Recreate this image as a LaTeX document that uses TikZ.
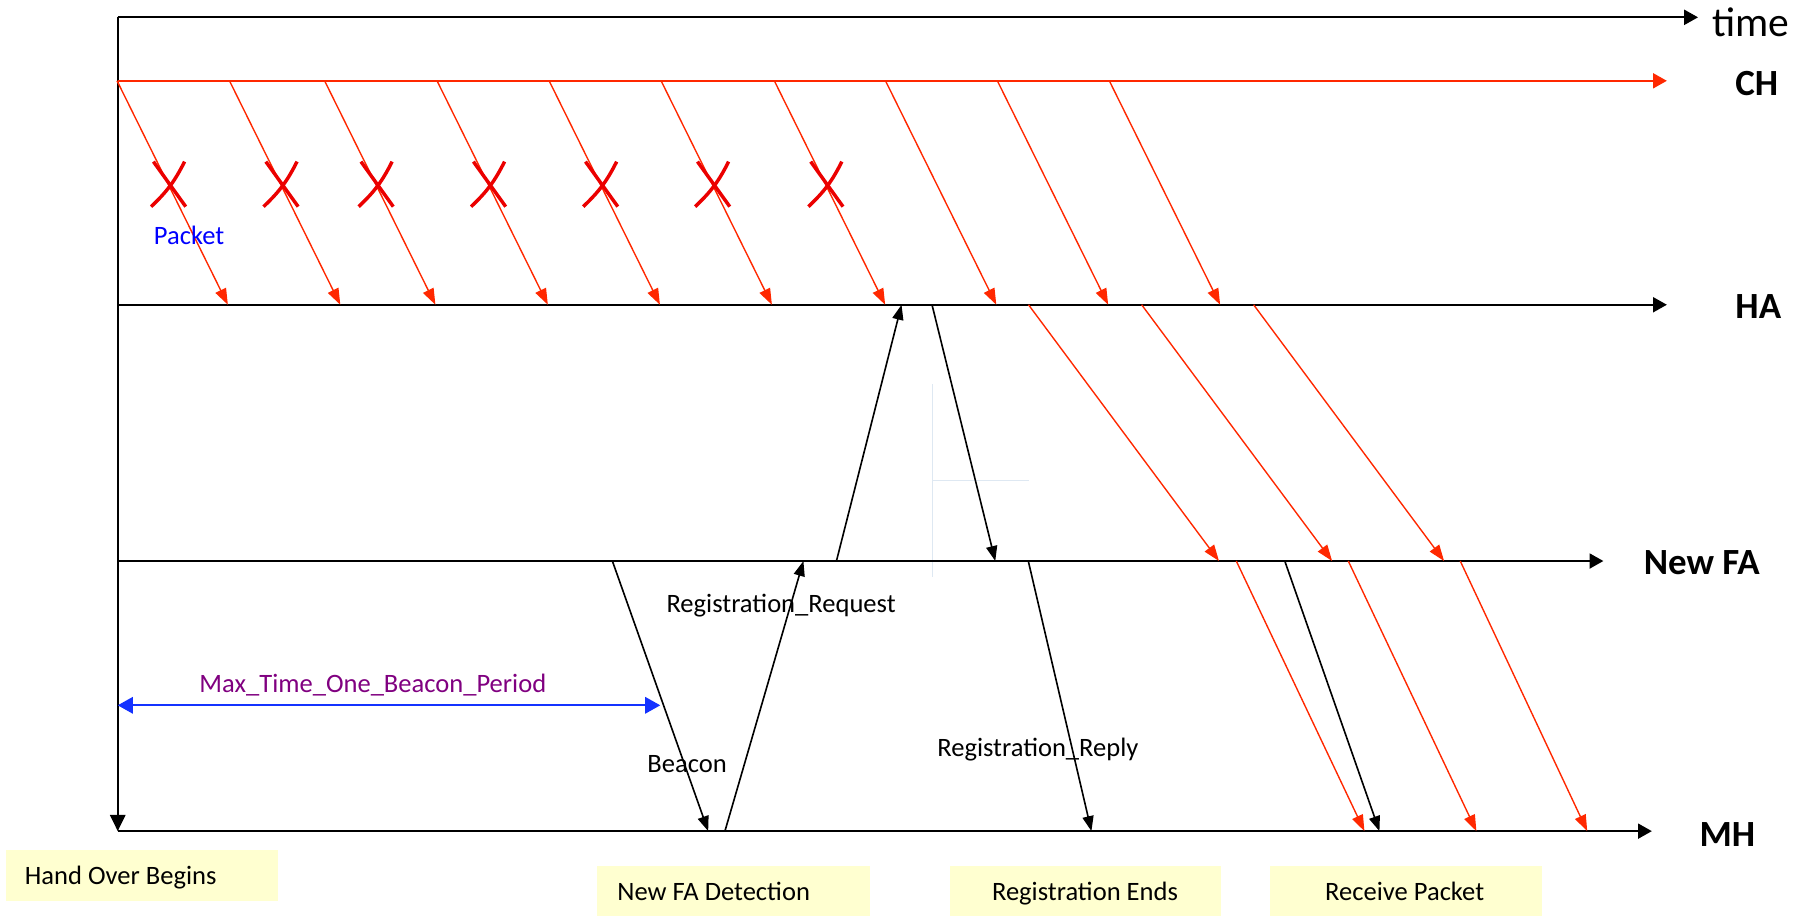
\documentclass[tikz,border=0pt]{standalone}
\usepackage{fontspec}
\setmainfont{Carlito}
\usetikzlibrary{arrows.meta}
\definecolor{pktred}{RGB}{255,40,0}
\definecolor{xred}{RGB}{235,0,0}
\definecolor{dimblue}{RGB}{20,50,255}
\definecolor{pblue}{RGB}{0,0,255}
\definecolor{mpurple}{RGB}{128,0,128}
\definecolor{noteyellow}{RGB}{255,255,208}
\definecolor{faintblue}{RGB}{222,232,242}
\begin{document}
\begin{tikzpicture}[x=0.5pt,y=-0.5pt,
  axis/.style={line width=0.85pt,-{Triangle[length=6pt,width=6.5pt]}},
  pkt/.style={draw=pktred,line width=0.6pt,-{Triangle[length=7pt,width=5pt]}},
  sig/.style={draw=black,line width=0.7pt,-{Triangle[length=6.5pt,width=4.8pt]}},
  xmark/.style={draw=xred,line width=1.5pt},
  lbl/.style={font=\fontsize{11.5}{13}\selectfont,inner sep=0pt,anchor=base west},
  lane/.style={font=\fontsize{16}{18}\selectfont\bfseries,inner sep=0pt,anchor=base west},
  notebox/.style={fill=noteyellow,draw=none,inner sep=0pt,anchor=north west}
]
\useasboundingbox (0,0) rectangle (1568,794);

% ---- timeline coordinates
\coordinate (o) at (102,15);
\coordinate (tE) at (1471,15);
\coordinate (ch0) at (102,70);
\coordinate (chE) at (1444,70);
\coordinate (ha0) at (102,264);
\coordinate (haE) at (1444,264);
\coordinate (fa0) at (102,486);
\coordinate (faE) at (1389,486);
\coordinate (mh0) at (102,720);
\coordinate (mhE) at (1431,720);

% ---- faint guide lines
\coordinate (f1) at (808,333);
\coordinate (f2) at (808,500);
\coordinate (f3) at (808,416);
\coordinate (f4) at (891,416);
\draw[faintblue,line width=0.6pt] (f1) -- (f2) (f3) -- (f4);

% ---- note boxes
\node[notebox,minimum width=117.8pt,minimum height=22.25pt] (b1) at (4.4,735.8) {};
\node[notebox,minimum width=118.2pt,minimum height=21.95pt] (b2) at (517,749.4) {};
\node[notebox,minimum width=117.4pt,minimum height=21.95pt] (b3) at (822.6,749.4) {};
\node[notebox,minimum width=117.8pt,minimum height=21.95pt] (b4) at (1099.4,749.4) {};
\node[lbl] (t1) at (21.2,765.8) {Hand Over Begins};
\node[lbl] (t2) at (534.5,779.7) {New FA Detection};
\node[lbl] (t3) at (859,779.7) {Registration Ends};
\node[lbl] (t4) at (1147.6,779.7) {Receive Packet};

% ---- axes
\draw[axis] (o) -- (tE);
\draw[line width=0.85pt,-{Triangle[length=7pt,width=6.6pt]}] (o) -- (mh0);
\draw[axis,draw=pktred] (ch0) -- (chE);
\draw[axis] (ha0) -- (haE);
\draw[axis] (fa0) -- (faE);
\draw[axis] (mh0) -- (mhE);

% ---- packets CH -> HA
\foreach \s [count=\i] in {101.4,198.8,281.2,378.6,475.7,572.7,670.8,767.1,864,961} {
  \coordinate (pa\i) at (\s,70);
  \coordinate (pb\i) at (\s+96,264);
  \draw[pkt] (pa\i) -- (pb\i);
}
% ---- lost packets
\foreach \s [count=\i] in {101.4,198.8,281.2,378.6,475.7,572.7,670.8} {
  \coordinate (xc\i) at (\s+44.5,160);
  \draw[xmark] ([shift={(-13,-20)}]xc\i) -- ([shift={(15,19)}]xc\i);
  \draw[xmark] ([shift={(14,-20)}]xc\i) to[bend left=10] ([shift={(-15,19)}]xc\i);
}
% ---- packets HA -> New FA
\foreach \a/\b [count=\i] in {891/1056,989/1154,1086/1251} {
  \coordinate (ra\i) at (\a,264);
  \coordinate (rb\i) at (\b,486);
  \draw[pkt] (ra\i) -- (rb\i);
}
% ---- packets New FA -> MH
\foreach \a/\b [count=\i] in {1071/1182,1168/1279,1265/1375} {
  \coordinate (qa\i) at (\a,486);
  \coordinate (qb\i) at (\b,720);
  \draw[pkt] (qa\i) -- (qb\i);
}

% ---- signalling
\coordinate (bc0) at (530.5,486);
\coordinate (bc1) at (613.5,720);
\coordinate (rq0) at (628,720);
\coordinate (rq1) at (696,486);
\coordinate (rq2) at (724.6,486);
\coordinate (rq3) at (781,264);
\coordinate (rp0) at (807.4,264);
\coordinate (rp1) at (862.2,486);
\coordinate (rp2) at (890.8,486);
\coordinate (rp3) at (945.5,720);
\coordinate (fw0) at (1113,486);
\coordinate (fw1) at (1195,720);
\draw[sig] (bc0) -- (bc1);
\draw[sig] (rq0) -- (rq1);
\draw[sig] (rq2) -- (rq3);
\draw[sig] (rp0) -- (rp1);
\draw[sig] (rp2) -- (rp3);
\draw[sig] (fw0) -- (fw1);

% ---- beacon period
\coordinate (m1) at (102,611);
\coordinate (m2) at (572,611);
\draw[dimblue,line width=0.75pt,{Triangle[length=6.6pt,width=7.2pt]}-{Triangle[length=6.6pt,width=7.2pt]}] (m1) -- (m2);

% ---- labels
\node[lbl,text=pblue] (lpk) at (133,212) {Packet};
\node[lbl,text=mpurple] (lmax) at (172.4,600) {Max\_Time\_One\_Beacon\_Period};
\node[lbl] (lbc) at (560.5,669) {Beacon};
\node[lbl] (lrq) at (577,530.5) {Registration\_Request};
\node[lbl] (lrp) at (811.6,655.5) {Registration\_Reply};

\node[font=\fontsize{18}{20}\selectfont,inner sep=0pt,anchor=base west] (ltime) at (1483,32) {time};
\node[lane] (lch) at (1503,83) {CH};
\node[lane] (lha) at (1503,276) {HA};
\node[lane] (lfa) at (1423.6,498) {New FA};
\node[lane] (lmh) at (1472,733) {MH};
\end{tikzpicture}
\end{document}
